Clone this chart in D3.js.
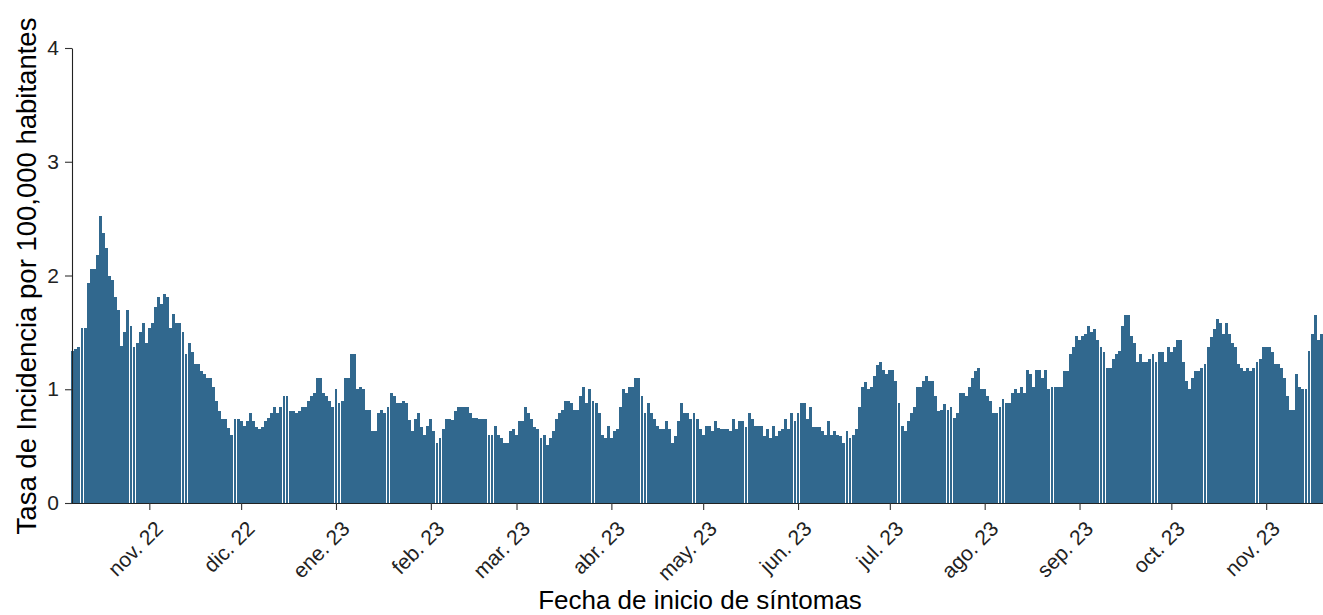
<!DOCTYPE html>
<html>
<head>
<meta charset="utf-8">
<script src="https://cdn.jsdelivr.net/npm/d3@7"></script>
<style>
  body { margin: 0; background: #fff; }
  text { font-family: "Liberation Sans", Arial, sans-serif; }
</style>
</head>
<body>
<div id="chart"></div>
<script>
// first day with data, one bar per day after that
const startDate = "2022-10-07";

// tasa diaria por 100,000 habitantes
const rates = [
  1.34, 1.35, 1.37, 1.54, 1.54, 1.93, 2.06, 2.06, 2.18, 2.52, 2.37, 2.24, 2.00, 1.96, 1.81, 1.70, 1.38, 1.50, 1.70, 1.56, 1.37, 1.41, 1.50, 1.58, 1.41,
  1.54, 1.58, 1.72, 1.81, 1.75, 1.84, 1.81, 1.54, 1.66, 1.58, 1.58, 1.50, 1.31, 1.41, 1.33, 1.22, 1.22, 1.16, 1.13, 1.10, 1.10, 1.02, 0.90, 0.81, 0.74, 0.74, 0.66, 0.60, 0.74, 0.74,
  0.72, 0.68, 0.72, 0.79, 0.72, 0.67, 0.65, 0.67, 0.72, 0.75, 0.79, 0.84, 0.79, 0.84, 0.94, 0.94, 0.81, 0.81, 0.79, 0.81, 0.84, 0.84, 0.90, 0.94, 0.97, 1.10, 1.10, 0.97, 0.94, 0.90, 0.84,
  1.00, 0.88, 0.90, 1.10, 1.10, 1.31, 1.31, 1.00, 1.02, 1.00, 0.82, 0.82, 0.63, 0.63, 0.79, 0.82, 0.79, 0.84, 0.97, 0.94, 0.88, 0.88, 0.90, 0.88, 0.73, 0.63, 0.74, 0.79, 0.67, 0.60, 0.68,
  0.74, 0.63, 0.53, 0.57, 0.65, 0.74, 0.74, 0.73, 0.81, 0.84, 0.84, 0.84, 0.84, 0.79, 0.75, 0.75, 0.74, 0.74, 0.74, 0.60, 0.60, 0.68, 0.60, 0.57, 0.53, 0.53, 0.63, 0.65,
  0.60, 0.72, 0.72, 0.84, 0.79, 0.74, 0.67, 0.65, 0.57, 0.60, 0.51, 0.57, 0.63, 0.74, 0.79, 0.82, 0.90, 0.90, 0.88, 0.82, 0.82, 0.94, 1.02, 0.88, 1.00, 0.90, 0.88, 0.79, 0.60, 0.57, 0.68,
  0.57, 0.63, 0.65, 0.84, 1.00, 0.97, 1.02, 1.02, 1.10, 1.10, 0.94, 0.79, 0.88, 0.79, 0.74, 0.68, 0.65, 0.65, 0.72, 0.65, 0.53, 0.59, 0.72, 0.88, 0.79, 0.79, 0.74, 0.79, 0.74, 0.65,
  0.60, 0.68, 0.68, 0.63, 0.72, 0.66, 0.65, 0.65, 0.65, 0.63, 0.74, 0.65, 0.72, 0.72, 0.67, 0.79, 0.74, 0.68, 0.68, 0.68, 0.59, 0.65, 0.57, 0.68, 0.59, 0.63, 0.65, 0.74, 0.65, 0.79, 0.72,
  0.79, 0.88, 0.88, 0.74, 0.84, 0.67, 0.67, 0.67, 0.63, 0.60, 0.72, 0.60, 0.63, 0.60, 0.59, 0.53, 0.63, 0.57, 0.60, 0.65, 0.84, 1.02, 1.06, 1.00, 1.02, 1.12, 1.21, 1.24, 1.17, 1.13,
  1.17, 1.17, 1.07, 0.88, 0.68, 0.63, 0.72, 0.79, 0.84, 1.02, 1.02, 1.07, 1.12, 1.07, 1.07, 0.94, 0.81, 0.82, 0.87, 0.82, 0.84, 0.75, 0.79, 0.97, 0.97, 0.94, 1.02, 1.10, 1.16, 1.19, 1.00,
  1.00, 0.94, 0.90, 0.79, 0.79, 0.84, 0.91, 0.88, 0.88, 0.97, 1.00, 0.97, 1.02, 0.97, 1.17, 1.13, 1.02, 1.17, 1.17, 1.10, 1.17, 1.00, 1.02, 1.02, 1.02, 1.02, 1.16, 1.16, 1.31, 1.37, 1.47,
  1.43, 1.47, 1.49, 1.56, 1.50, 1.53, 1.43, 1.37, 1.33, 1.19, 1.19, 1.27, 1.31, 1.34, 1.56, 1.65, 1.65, 1.47, 1.41, 1.24, 1.31, 1.24, 1.24, 1.27, 1.31, 1.24, 1.33, 1.33, 1.24, 1.37,
  1.33, 1.37, 1.43, 1.43, 1.24, 1.07, 1.00, 1.10, 1.16, 1.16, 1.19, 1.22, 1.37, 1.46, 1.53, 1.62, 1.58, 1.49, 1.58, 1.49, 1.41, 1.37, 1.22, 1.19, 1.16, 1.19, 1.16, 1.19, 1.24, 1.27, 1.37,
  1.37, 1.37, 1.33, 1.22, 1.22, 1.19, 1.10, 0.94, 0.82, 0.82, 1.13, 1.02, 1.00, 1.00, 1.34, 1.49, 1.65, 1.43, 1.49
];

const tickDates = ["2022-11-01", "2022-12-01", "2023-01-01", "2023-02-01", "2023-03-01", "2023-04-01",
  "2023-05-01", "2023-06-01", "2023-07-01", "2023-08-01", "2023-09-01", "2023-10-01", "2023-11-01"];
const tickLabels = ["nov. 22", "dic. 22", "ene. 23", "feb. 23", "mar. 23", "abr. 23",
  "may. 23", "jun. 23", "jul. 23", "ago. 23", "sep. 23", "oct. 23", "nov. 23"];
const yTicks = [0, 1, 2, 3, 4];

const width = 1323, height = 615;
const parse = d3.utcParse("%Y-%m-%d");
const day0 = parse(startDate);
const data = rates.map((v, i) => ({ date: d3.utcDay.offset(day0, i), value: v }));
const lastDay = data[data.length - 1].date;

const x = d3.scaleUtc()
  .domain([d3.utcHour.offset(day0, -12), d3.utcHour.offset(lastDay, 12)])
  .range([71.3, 1322.8]);
const y = d3.scaleLinear().domain([0, 4]).range([503, 48]);

const step = x(d3.utcDay.offset(day0, 1)) - x(day0);
const bw = step * 0.95;

const svg = d3.select("#chart").append("svg")
  .attr("width", width)
  .attr("height", height);

svg.append("g")
  .selectAll("rect")
  .data(data)
  .enter()
  .append("rect")
  .attr("x", d => x(d.date) - bw / 2)
  .attr("y", d => y(d.value))
  .attr("width", bw)
  .attr("height", d => y(0) - y(d.value))
  .attr("fill", "#31688E")
  .attr("shape-rendering", "crispEdges");

// eje x
const xAxis = svg.append("g")
  .attr("transform", "translate(0,503)")
  .call(d3.axisBottom(x)
    .tickValues(tickDates.map(parse))
    .tickFormat((d, i) => tickLabels[i])
    .tickSize(7)
    .tickSizeOuter(0));
xAxis.select(".domain").attr("stroke", "#222").attr("stroke-width", 1.1);
xAxis.selectAll(".tick line").attr("stroke", "#333").attr("stroke-width", 1.1);
xAxis.selectAll(".tick text")
  .attr("y", 0)
  .attr("dy", 0)
  .attr("text-anchor", "end")
  .attr("transform", "translate(14.5,27) rotate(-45)")
  .attr("fill", "#222")
  .style("font-size", "21px")
  .style("font-family", "'Liberation Sans', Arial, sans-serif");

// eje y
const yAxis = svg.append("g")
  .attr("transform", "translate(72,0)")
  .call(d3.axisLeft(y).tickValues(yTicks).tickFormat(d3.format("d")).tickSize(7).tickSizeOuter(0));
yAxis.select(".domain").attr("stroke", "#222").attr("stroke-width", 1.1);
yAxis.selectAll(".tick line").attr("stroke", "#333").attr("stroke-width", 1.1);
yAxis.selectAll(".tick text")
  .attr("x", -13)
  .attr("fill", "#222")
  .style("font-size", "21px")
  .style("font-family", "'Liberation Sans', Arial, sans-serif");

svg.append("text")
  .attr("x", 700)
  .attr("y", 609)
  .attr("text-anchor", "middle")
  .style("font-size", "26px")
  .attr("fill", "#000")
  .text("Fecha de inicio de síntomas");

svg.append("text")
  .attr("transform", "translate(36,276) rotate(-90)")
  .attr("text-anchor", "middle")
  .style("font-size", "27.5px")
  .attr("fill", "#000")
  .text("Tasa de Incidencia por 100,000 habitantes");
</script>
</body>
</html>
